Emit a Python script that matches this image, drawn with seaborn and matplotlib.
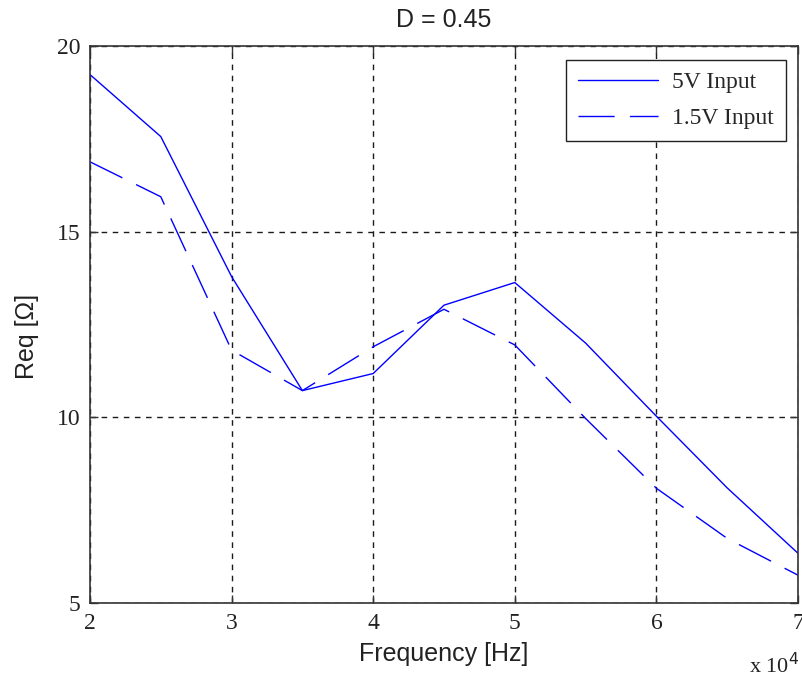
import matplotlib
matplotlib.use("Agg")
import matplotlib.pyplot as plt
import seaborn as sns
import pandas as pd
from matplotlib.ticker import FuncFormatter

# данные
freq = [20000, 25000, 30000, 35000, 40000, 45000, 50000, 55000, 60000, 65000, 70000]
req_5v = [19.23, 17.56, 13.79, 10.72, 11.18, 13.02, 13.63, 12.0, 10.03, 8.1, 6.34]
req_15v = [16.88, 15.94, 11.81, 10.72, 11.9, 12.91, 11.95, 9.97, 8.09, 6.74, 5.75]
series_names = ["5V Input", "1.5V Input"]
x_ticks = [20000, 30000, 40000, 50000, 60000, 70000]
y_ticks = [5, 10, 15, 20]

df = pd.DataFrame({
    "freq": freq * 2,
    "req": req_5v + req_15v,
    "series": [series_names[0]] * len(freq) + [series_names[1]] * len(freq),
})

sns.set_style("white")
plt.rcParams["font.family"] = ["Liberation Sans", "DejaVu Sans"]

fig = plt.figure(figsize=(8.02, 6.8), dpi=100)
ax = fig.add_axes([0.1122, 0.1132, 0.8828, 0.8192])

sns.lineplot(data=df, x="freq", y="req", style="series", style_order=series_names,
             dashes={series_names[0]: "", series_names[1]: (26, 11)},
             color="#0000ff", lw=1.0, legend=False, ax=ax)

ax.set_xlim(20000, 70000)
ax.set_ylim(5, 20)
ax.set_xticks(x_ticks)
ax.set_yticks(y_ticks)
ax.xaxis.set_major_formatter(FuncFormatter(lambda v, p: f"{v / 1e4:g}"))

# сетка в стиле MATLAB
ax.grid(True, color="#1a1a1a", linestyle=(0, (4, 4)), linewidth=1.0)
for s in ax.spines.values():
    s.set_color("#333333")
    s.set_linewidth(1.2)
ax.tick_params(direction="in", length=6, width=1, color="#333333",
               top=True, right=True, bottom=True, left=True, pad=7)
for lab in ax.get_xticklabels() + ax.get_yticklabels():
    lab.set_fontfamily("Liberation Serif")
    lab.set_fontsize(17)
    lab.set_color("#222222")

ax.set_title("D = 0.45", fontsize=18, color="#222222", pad=14)
ax.set_xlabel("Frequency [Hz]", fontsize=18, color="#222222", labelpad=6)
ax.set_ylabel("Req [Ω]", fontsize=18, color="#222222")
ax.yaxis.set_label_coords(-0.072, 0.478)

fig.text(749 / 802, 1 - 666 / 680, r"x 10$^{4}$", fontsize=16, family="Liberation Serif",
         color="#222222", va="center", ha="left")

leg = ax.legend(ax.lines[:2], series_names, loc="upper right",
                bbox_to_anchor=(0.983, 0.975), borderaxespad=0, fancybox=False,
                framealpha=1, edgecolor="#222222", handlelength=3.4,
                handletextpad=0.6, labelspacing=0.6, borderpad=0.5,
                prop={"family": "Liberation Serif", "size": 17})
leg.get_frame().set_linewidth(1.0)

fig.savefig("out.png", dpi=100)
